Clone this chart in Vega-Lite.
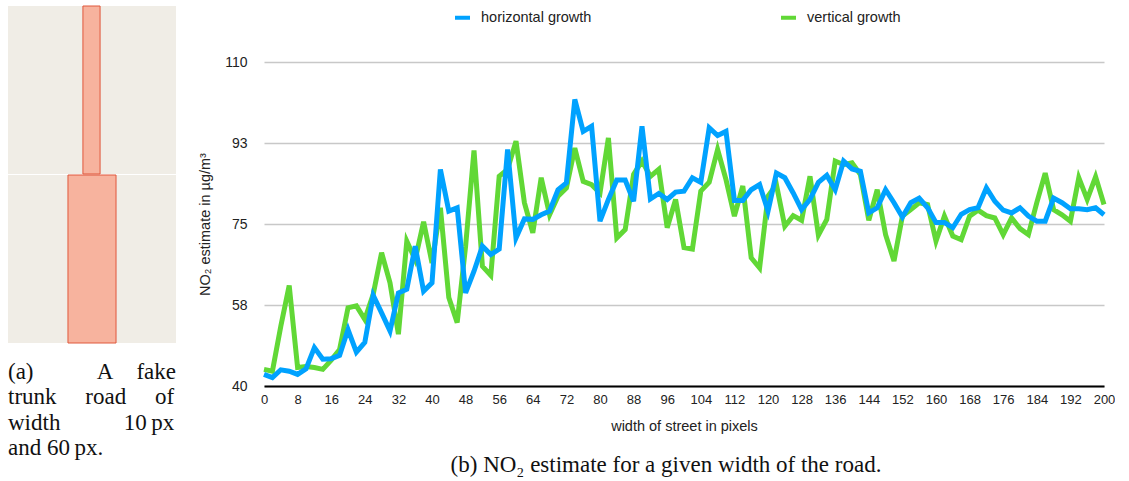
{
  "$schema": "https://vega.github.io/schema/vega-lite/v6.json",
  "padding": {"left": 8, "top": 5, "right": 0, "bottom": 0},
  "spacing": 21,
  "resolve": {"legend": {"color": "independent"}, "scale": {"color": "independent"}},
  "datasets": {
    "roads": [
      {"image": "10 px", "road_left": 44.6, "road_right": 54.8},
      {"image": "60 px", "road_left": 35.7, "road_right": 64.3}
    ],
    "no2": [
      {"w": 0, "horizontal growth": 42.5, "vertical growth": 43.6},
      {"w": 2, "horizontal growth": 41.8, "vertical growth": 43.2},
      {"w": 4, "horizontal growth": 43.5, "vertical growth": 52.9},
      {"w": 6, "horizontal growth": 43.2, "vertical growth": 61.7},
      {"w": 8, "horizontal growth": 42.5, "vertical growth": 44.0},
      {"w": 10, "horizontal growth": 43.7, "vertical growth": 44.2},
      {"w": 12, "horizontal growth": 48.3, "vertical growth": 44.0},
      {"w": 14, "horizontal growth": 45.8, "vertical growth": 43.6},
      {"w": 16, "horizontal growth": 45.9, "vertical growth": 45.6},
      {"w": 18, "horizontal growth": 46.6, "vertical growth": 47.9},
      {"w": 20, "horizontal growth": 52.2, "vertical growth": 56.9},
      {"w": 22, "horizontal growth": 47.3, "vertical growth": 57.3},
      {"w": 24, "horizontal growth": 49.4, "vertical growth": 54.4},
      {"w": 26, "horizontal growth": 59.6, "vertical growth": 59.8},
      {"w": 28, "horizontal growth": 55.8, "vertical growth": 68.8},
      {"w": 30, "horizontal growth": 51.9, "vertical growth": 62.3},
      {"w": 32, "horizontal growth": 60.1, "vertical growth": 51.2},
      {"w": 34, "horizontal growth": 60.9, "vertical growth": 71.3},
      {"w": 36, "horizontal growth": 70.2, "vertical growth": 67.3},
      {"w": 38, "horizontal growth": 60.5, "vertical growth": 75.5},
      {"w": 40, "horizontal growth": 62.3, "vertical growth": 66.6},
      {"w": 42, "horizontal growth": 86.8, "vertical growth": 78.5},
      {"w": 44, "horizontal growth": 77.8, "vertical growth": 59.1},
      {"w": 46, "horizontal growth": 78.5, "vertical growth": 53.7},
      {"w": 48, "horizontal growth": 60.1, "vertical growth": 70.2},
      {"w": 50, "horizontal growth": 64.8, "vertical growth": 90.9},
      {"w": 52, "horizontal growth": 70.2, "vertical growth": 65.9},
      {"w": 54, "horizontal growth": 68.4, "vertical growth": 63.9},
      {"w": 56, "horizontal growth": 69.6, "vertical growth": 85.3},
      {"w": 58, "horizontal growth": 91.1, "vertical growth": 86.8},
      {"w": 60, "horizontal growth": 72.0, "vertical growth": 92.9},
      {"w": 62, "horizontal growth": 76.1, "vertical growth": 79.6},
      {"w": 64, "horizontal growth": 76.0, "vertical growth": 73.1},
      {"w": 66, "horizontal growth": 77.0, "vertical growth": 85.0},
      {"w": 68, "horizontal growth": 77.8, "vertical growth": 77.0},
      {"w": 70, "horizontal growth": 82.4, "vertical growth": 81.0},
      {"w": 72, "horizontal growth": 83.9, "vertical growth": 82.8},
      {"w": 74, "horizontal growth": 101.9, "vertical growth": 91.4},
      {"w": 76, "horizontal growth": 95.0, "vertical growth": 84.2},
      {"w": 78, "horizontal growth": 96.1, "vertical growth": 83.5},
      {"w": 80, "horizontal growth": 75.6, "vertical growth": 81.7},
      {"w": 82, "horizontal growth": 80.3, "vertical growth": 93.6},
      {"w": 84, "horizontal growth": 84.5, "vertical growth": 72.0},
      {"w": 86, "horizontal growth": 84.5, "vertical growth": 73.8},
      {"w": 88, "horizontal growth": 79.9, "vertical growth": 85.7},
      {"w": 90, "horizontal growth": 96.1, "vertical growth": 88.6},
      {"w": 92, "horizontal growth": 80.4, "vertical growth": 85.3},
      {"w": 94, "horizontal growth": 81.6, "vertical growth": 86.8},
      {"w": 96, "horizontal growth": 80.3, "vertical growth": 74.2},
      {"w": 98, "horizontal growth": 81.9, "vertical growth": 80.3},
      {"w": 100, "horizontal growth": 82.1, "vertical growth": 69.9},
      {"w": 102, "horizontal growth": 85.0, "vertical growth": 69.6},
      {"w": 104, "horizontal growth": 84.0, "vertical growth": 82.1},
      {"w": 106, "horizontal growth": 95.8, "vertical growth": 84.0},
      {"w": 108, "horizontal growth": 94.1, "vertical growth": 91.1},
      {"w": 110, "horizontal growth": 95.0, "vertical growth": 84.6},
      {"w": 112, "horizontal growth": 80.1, "vertical growth": 76.7},
      {"w": 114, "horizontal growth": 80.1, "vertical growth": 83.2},
      {"w": 116, "horizontal growth": 82.4, "vertical growth": 67.7},
      {"w": 118, "horizontal growth": 83.5, "vertical growth": 65.5},
      {"w": 120, "horizontal growth": 77.8, "vertical growth": 81.0},
      {"w": 122, "horizontal growth": 86.0, "vertical growth": 83.5},
      {"w": 124, "horizontal growth": 85.0, "vertical growth": 74.5},
      {"w": 126, "horizontal growth": 81.7, "vertical growth": 76.8},
      {"w": 128, "horizontal growth": 78.1, "vertical growth": 75.8},
      {"w": 130, "horizontal growth": 80.3, "vertical growth": 85.3},
      {"w": 132, "horizontal growth": 84.0, "vertical growth": 72.6},
      {"w": 134, "horizontal growth": 85.5, "vertical growth": 76.0},
      {"w": 136, "horizontal growth": 82.4, "vertical growth": 88.6},
      {"w": 138, "horizontal growth": 88.6, "vertical growth": 87.8},
      {"w": 140, "horizontal growth": 86.9, "vertical growth": 88.2},
      {"w": 142, "horizontal growth": 86.4, "vertical growth": 85.7},
      {"w": 144, "horizontal growth": 77.4, "vertical growth": 75.8},
      {"w": 146, "horizontal growth": 78.5, "vertical growth": 82.4},
      {"w": 148, "horizontal growth": 82.4, "vertical growth": 72.7},
      {"w": 150, "horizontal growth": 79.6, "vertical growth": 67.0},
      {"w": 152, "horizontal growth": 76.5, "vertical growth": 76.7},
      {"w": 154, "horizontal growth": 79.6, "vertical growth": 78.1},
      {"w": 156, "horizontal growth": 80.6, "vertical growth": 79.6},
      {"w": 158, "horizontal growth": 78.5, "vertical growth": 79.2},
      {"w": 160, "horizontal growth": 75.3, "vertical growth": 71.3},
      {"w": 162, "horizontal growth": 75.3, "vertical growth": 76.7},
      {"w": 164, "horizontal growth": 74.2, "vertical growth": 72.4},
      {"w": 166, "horizontal growth": 77.1, "vertical growth": 71.6},
      {"w": 168, "horizontal growth": 78.1, "vertical growth": 76.7},
      {"w": 170, "horizontal growth": 78.5, "vertical growth": 78.0},
      {"w": 172, "horizontal growth": 82.8, "vertical growth": 76.8},
      {"w": 174, "horizontal growth": 79.9, "vertical growth": 76.3},
      {"w": 176, "horizontal growth": 78.0, "vertical growth": 72.7},
      {"w": 178, "horizontal growth": 77.4, "vertical growth": 76.3},
      {"w": 180, "horizontal growth": 78.5, "vertical growth": 74.0},
      {"w": 182, "horizontal growth": 76.7, "vertical growth": 72.7},
      {"w": 184, "horizontal growth": 75.6, "vertical growth": 79.6},
      {"w": 186, "horizontal growth": 75.6, "vertical growth": 86.0},
      {"w": 188, "horizontal growth": 80.6, "vertical growth": 78.1},
      {"w": 190, "horizontal growth": 79.6, "vertical growth": 77.0},
      {"w": 192, "horizontal growth": 78.3, "vertical growth": 75.6},
      {"w": 194, "horizontal growth": 78.3, "vertical growth": 85.0},
      {"w": 196, "horizontal growth": 78.1, "vertical growth": 80.3},
      {"w": 198, "horizontal growth": 78.5, "vertical growth": 85.2},
      {"w": 200, "horizontal growth": 77.0, "vertical growth": 79.2}
    ]
  },
  "hconcat": [
    {
      "width": 168,
      "height": 281,
      "data": {"name": "roads"},
      "title": {
        "text": [
          "(a)\u00a0\u00a0\u00a0\u00a0\u00a0\u00a0\u00a0\u00a0\u00a0\u00a0\u00a0A\u00a0\u00a0\u00a0\u00a0fake",
          "trunk\u00a0\u00a0\u00a0\u00a0\u00a0road\u00a0\u00a0\u00a0\u00a0\u00a0of",
          "width\u00a0\u00a0\u00a0\u00a0\u00a0\u00a0\u00a0\u00a0\u00a0\u00a0\u00a010\u2009px",
          "and 60\u2009px."
        ],
        "orient": "bottom",
        "anchor": "start",
        "font": "Liberation Serif",
        "fontSize": 23,
        "fontWeight": "normal",
        "color": "#111111",
        "lineHeight": 25.5,
        "offset": 17
      },
      "layer": [
        {
          "mark": {"type": "rect", "fill": "#F0EDE6"},
          "encoding": {
            "y": {"field": "image", "type": "nominal", "sort": null, "axis": null,
                  "scale": {"range": [-56, 281], "paddingInner": 0.006, "paddingOuter": 0}}
          }
        },
        {
          "mark": {"type": "rect", "fill": "#F7B39E", "stroke": "#E0583C", "strokeWidth": 1},
          "encoding": {
            "y": {"field": "image", "type": "nominal", "sort": null, "axis": null},
            "x": {"field": "road_left", "type": "quantitative", "axis": null,
                  "scale": {"domain": [0, 100], "nice": false, "zero": false}},
            "x2": {"field": "road_right"}
          }
        }
      ]
    },
    {
      "width": 840,
      "height": 324,
      "data": {"name": "no2"},
      "transform": [{"fold": ["horizontal growth", "vertical growth"], "as": ["series", "no2"]}],
      "title": {
        "text": "(b) NO₂ estimate for a given width of the road.",
        "orient": "bottom",
        "anchor": "middle",
        "font": "Liberation Serif",
        "fontSize": 23,
        "fontWeight": "normal",
        "color": "#111111",
        "offset": 21,
        "dx": -18
      },
      "encoding": {
        "x": {
          "field": "w", "type": "quantitative",
          "scale": {"domain": [0, 200], "nice": false, "zero": false},
          "axis": {
            "values": [0, 8, 16, 24, 32, 40, 48, 56, 64, 72, 80, 88, 96, 104, 112, 120, 128, 136, 144, 152, 160, 168, 176, 184, 192, 200],
            "title": "width of street in pixels",
            "grid": false, "ticks": false,
            "domainColor": "#000000", "domainWidth": 2,
            "labelPadding": 7, "titlePadding": 13,
            "labelFlush": false, "labelFontSize": 13
          }
        },
        "y": {
          "field": "no2", "type": "quantitative",
          "scale": {"domain": [40, 110], "nice": false, "zero": false},
          "axis": {
            "values": [40, 57.5, 75, 92.5, 110],
            "labelExpr": "format(round(datum.value), 'd')",
            "title": "NO₂ estimate in µg/m³",
            "grid": true, "gridColor": "#C8C8C8", "gridWidth": 1.5,
            "domain": false, "ticks": false,
            "labelFontSize": 14,
            "labelPadding": 17, "titlePadding": 12
          }
        },
        "color": {
          "field": "series", "type": "nominal",
          "scale": {"domain": ["horizontal growth", "vertical growth"], "range": ["#00A2FF", "#61D836"]},
          "legend": {
            "title": null, "orient": "none", "direction": "horizontal",
            "legendX": 187, "legendY": -56,
            "symbolType": "stroke", "symbolStrokeWidth": 4, "symbolSize": 225,
            "labelFontSize": 14.5, "labelOffset": 9, "columnPadding": 181,
            "padding": 2, "labelColor": "#222222"
          }
        }
      },
      "layer": [
        {
          "transform": [{"filter": "datum.series === 'vertical growth'"}],
          "mark": {"type": "line", "strokeWidth": 5}
        },
        {
          "transform": [{"filter": "datum.series === 'horizontal growth'"}],
          "mark": {"type": "line", "strokeWidth": 5}
        }
      ]
    }
  ],
  "config": {
    "view": {"stroke": null},
    "font": "Liberation Sans",
    "axis": {
      "labelFont": "Liberation Sans", "labelColor": "#222222",
      "titleFont": "Liberation Sans", "titleFontSize": 14.5, "titleFontWeight": "normal", "titleColor": "#222222"
    },
    "legend": {"labelFont": "Liberation Sans"}
  }
}
